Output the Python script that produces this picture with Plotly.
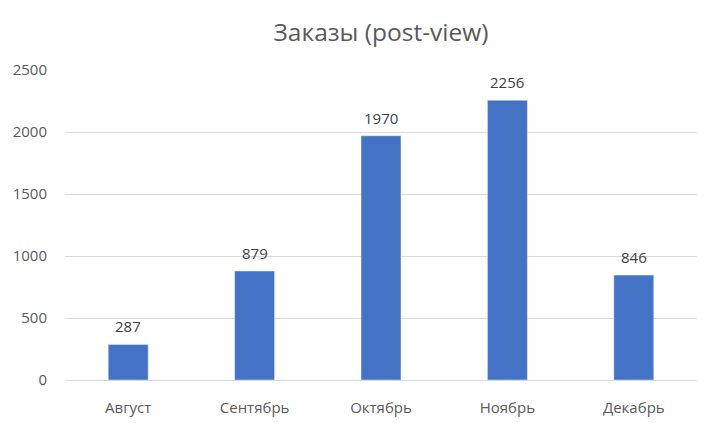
import plotly.graph_objects as go

# Данные
months = ["Август", "Сентябрь", "Октябрь", "Ноябрь", "Декабрь"]
orders = [287, 879, 1970, 2256, 846]
y_ticks = [0, 500, 1000, 1500, 2000, 2500]

fig = go.Figure()
fig.add_trace(
    go.Bar(
        x = months,
        y = orders,
        marker_color = "#4472C4",
        showlegend = False
    )
)
# подписи значений над столбцами
for m, v in zip(months, orders):
    fig.add_annotation(
        x = m,
        y = v,
        text = str(v),
        showarrow = False,
        yanchor = "bottom",
        yshift = 6,
        font = dict(size = 15, color = "#404040")
    )
fig.update_layout(
    width = 711,
    height = 423,
    plot_bgcolor = "white",
    paper_bgcolor = "white",
    font = dict(family = "Open Sans, Liberation Sans, sans-serif", color = "#595959"),
    title = dict(
        text = "Заказы (post-view)",
        x = 0.5,
        xanchor = "center",
        xref = "paper",
        y = 1 - 32 / 423,
        yanchor = "middle",
        yref = "container",
        font = dict(size = 24.5, color = "#595959")
    ),
    margin = dict(l = 65, r = 14, t = 70, b = 43, autoexpand = False),
    bargap = 0.684
)
fig.update_xaxes(
    automargin = False,
    showgrid = False,
    showline = True,
    linecolor = "#D9D9D9",
    linewidth = 1,
    ticks = "outside",
    ticklen = 14,
    tickcolor = "rgba(0,0,0,0)",
    tickfont = dict(size = 15, color = "#595959")
)
fig.update_yaxes(
    automargin = False,
    range = [0, 2500],
    tickvals = y_ticks,
    showgrid = True,
    gridcolor = "#D9D9D9",
    gridwidth = 1,
    zeroline = False,
    showline = False,
    ticks = "outside",
    ticklen = 14,
    tickcolor = "rgba(0,0,0,0)",
    tickfont = dict(size = 15, color = "#595959")
)

# убираем отступ страницы, чтобы график начинался с левого верхнего угла
fig.write_html(
    "out.html",
    config = {"displayModeBar": False},
    post_script = "document.body.style.margin = '0';"
)
